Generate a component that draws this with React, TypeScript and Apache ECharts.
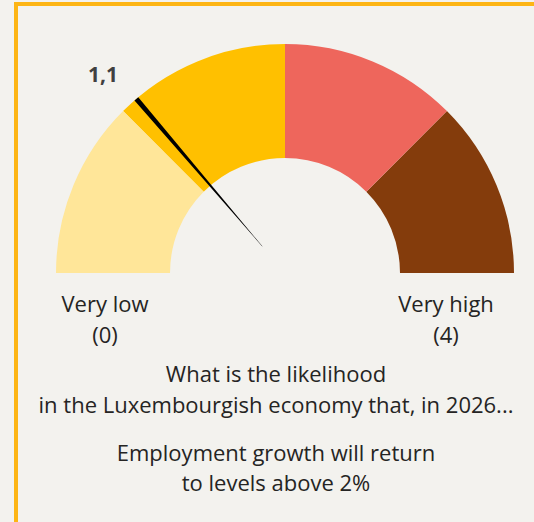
import React, { useEffect, useRef } from "react";
import * as echarts from "echarts";

const bandEnds = [1, 2, 3, 4];
const bandColors = ["#FFE699", "#FFC000", "#EE665C", "#843C0C"];
const gaugeMin = 0;
const gaugeMax = 4;
const gaugeValue = [1.1];
const endLabels = ["Very low\n(0)", "Very high\n(4)"];
const questionText = ["What is the likelihood", "in the Luxembourgish economy that, in 2026..."];
const statementText = ["Employment growth will return", "to levels above 2%"];

const FONT = "'Open Sans', 'Noto Sans', sans-serif";

export default function App() {
  const ref = useRef<HTMLDivElement>(null);
  useEffect(() => {
    document.body.style.margin = "0";
    if (!ref.current) return;
    const chart = echarts.init(ref.current, null, { renderer: "svg" });
    const cx = 285;
    const cy = 273;
    const R = 229;
    const inner = 115;
    const textStyle = (text: string, lh: number) => ({
      text,
      align: "center",
      verticalAlign: "middle",
      fontFamily: FONT,
      fontSize: 22,
      lineHeight: lh,
      fill: "#252423",
    });
    chart.setOption({
      animation: false,
      backgroundColor: "#F3F2EE",
      graphic: [
        {
          type: "rect",
          shape: { x: 16, y: 4, width: 560, height: 560 },
          style: { fill: "none", stroke: "#FDB515", lineWidth: 4 },
          silent: true,
        },
        { type: "text", x: 105, y: 318, style: textStyle(endLabels[0], 31) },
        { type: "text", x: 446, y: 318, style: textStyle(endLabels[1], 31) },
        { type: "text", x: 276, y: 388, style: textStyle(questionText.join("\n"), 31) },
        { type: "text", x: 276, y: 467, style: textStyle(statementText.join("\n"), 30) },
      ],
      series: [
        {
          type: "gauge",
          center: [cx, cy],
          radius: R,
          startAngle: 180,
          endAngle: 0,
          min: gaugeMin,
          max: gaugeMax,
          axisLine: {
            lineStyle: {
              width: R - inner,
              color: bandEnds.map((e, i) => [e / gaugeMax, bandColors[i]]),
            },
          },
          splitLine: { show: false },
          axisTick: { show: false },
          axisLabel: { show: false },
          anchor: { show: false },
          title: { show: false },
          pointer: {
            show: true,
            icon: "path://M0 0 L5 0 L2.6 194 L2.4 194 Z M2.5 229 L2.5 229 Z",
            length: R,
            width: 5,
            itemStyle: { color: "#000000" },
          },
          detail: {
            show: true,
            offsetCenter: [-182, -199],
            formatter: (v: number) => v.toFixed(1).replace(".", ","),
            fontFamily: FONT,
            fontSize: 21,
            fontWeight: "bold",
            color: "#404040",
          },
          data: [{ value: gaugeValue[0] }],
        },
      ],
    });
    return () => chart.dispose();
  }, []);
  return (
    <div
      ref={ref}
      style={{ position: "fixed", left: 0, top: 0, width: 534, height: 522 }}
    />
  );
}
